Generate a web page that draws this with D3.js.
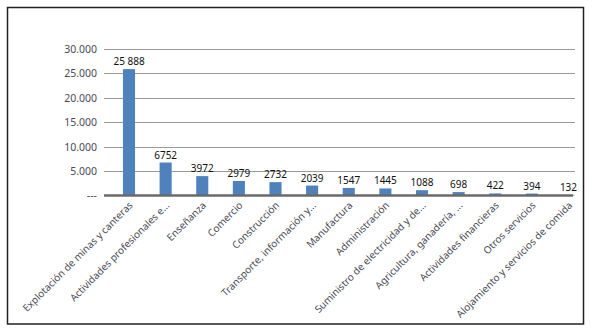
<!DOCTYPE html>
<html>
<head>
<meta charset="utf-8">
<script src="https://cdn.jsdelivr.net/npm/d3@7"></script>
<style>
  html, body { margin: 0; padding: 0; background: #fff; }
  svg { display: block; }
</style>
</head>
<body>
<svg id="chart" width="593" height="328"></svg>
<script>
// Sectors and their counts
const categories = [
  "Explotación de minas y canteras",
  "Actividades profesionales e...",
  "Enseñanza",
  "Comercio",
  "Construcción",
  "Transporte, información y...",
  "Manufactura",
  "Administración",
  "Suministro de electricidad y de...",
  "Agricultura, ganadería, ...",
  "Actividades financieras",
  "Otros servicios",
  "Alojamiento y servicios de comida"
];
const values = [25888, 6752, 3972, 2979, 2732, 2039, 1547, 1445, 1088, 698, 422, 394, 132];
const valueLabels = ["25 888", "6752", "3972", "2979", "2732", "2039", "1547", "1445", "1088", "698", "422", "394", "132"];
const yTicks = [0, 5000, 10000, 15000, 20000, 25000, 30000];
const yTickLabels = ["---", "5.000", "10.000", "15.000", "20.000", "25.000", "30.000"];

const svg = d3.select("#chart");
const font = "'Noto Sans', 'DejaVu Sans', sans-serif";

// outer frame
svg.append("rect")
  .attr("x", 7.5).attr("y", 7.5)
  .attr("width", 576).attr("height", 316.5)
  .attr("fill", "#fff")
  .attr("stroke", "#222").attr("stroke-width", 1.5);

const plotLeft = 104, plotRight = 575;
const y = d3.scaleLinear().domain([0, 30000]).range([195.5, 49]);
const x = d3.scaleBand()
  .domain(categories)
  .range([110.7, 586.8])
  .paddingInner(0.67)
  .paddingOuter(0.335);

// horizontal gridlines
svg.append("g")
  .selectAll("line")
  .data(yTicks.filter(d => d > 0))
  .join("line")
  .attr("x1", plotLeft).attr("x2", plotRight)
  .attr("y1", d => Math.round(y(d)) + 0.5)
  .attr("y2", d => Math.round(y(d)) + 0.5)
  .attr("stroke", "#9a9a9a").attr("stroke-width", 1);

// y-axis labels
const yAxis = d3.axisLeft(y)
  .tickValues(yTicks)
  .tickSize(0)
  .tickPadding(0)
  .tickFormat((d, i) => yTickLabels[i]);
const yG = svg.append("g").attr("transform", `translate(97,0)`).call(yAxis);
yG.select(".domain").remove();
yG.selectAll("text")
  .attr("font-family", font)
  .attr("font-size", 10.5)
  .attr("fill", "#4a4a55");

// bars
svg.append("g")
  .selectAll("rect")
  .data(values)
  .join("rect")
  .attr("x", (d, i) => x(categories[i]))
  .attr("width", x.bandwidth())
  .attr("y", d => y(d))
  .attr("height", d => y(0) - y(d))
  .attr("fill", "#4f81bd");

// value labels
svg.append("g")
  .selectAll("text")
  .data(values)
  .join("text")
  .attr("x", (d, i) => x(categories[i]) + x.bandwidth() / 2)
  .attr("y", d => y(d) - 4)
  .attr("text-anchor", "middle")
  .attr("font-family", font)
  .attr("font-size", 10)
  .attr("fill", "#111")
  .text((d, i) => valueLabels[i]);

// baseline
svg.append("line")
  .attr("x1", plotLeft).attr("x2", 573)
  .attr("y1", y(0)).attr("y2", y(0))
  .attr("stroke", "#6a6a6a").attr("stroke-width", 2.5);

// category labels, rotated
const xAxis = d3.axisBottom(x).tickSize(0).tickPadding(0);
const xG = svg.append("g").attr("transform", `translate(0,${y(0)})`).call(xAxis);
xG.select(".domain").remove();
xG.selectAll("text")
  .attr("font-family", font)
  .attr("font-size", 10)
  .attr("fill", "#4a4a55")
  .attr("text-anchor", "end")
  .attr("dy", "0.35em")
  .attr("transform", "translate(2,8) rotate(-45)");
</script>
</body>
</html>
